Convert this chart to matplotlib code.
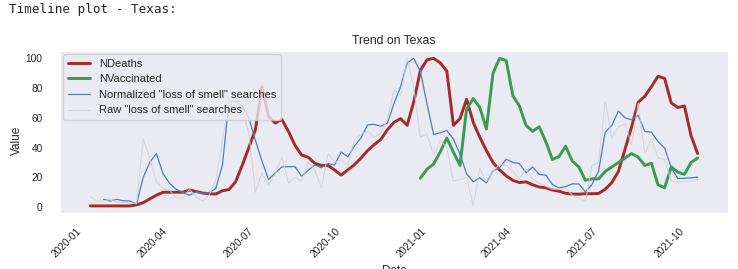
import numpy as np
import pandas as pd
import matplotlib
matplotlib.use("Agg")
import matplotlib.pyplot as plt
import seaborn as sns

sns.set_style("dark")
plt.rcParams['font.family'] = ['Liberation Sans', 'DejaVu Sans']

# weekly points (Sundays)
dates = pd.date_range("2020-01-26", periods=93, freq="7D")
nan = np.nan

n_deaths = [0.8, 0.8, 0.8, 0.8, 0.8, 0.8, 0.8, 1.5, 3, 5.5,
            8, 10, 10, 10, 10, 11.5, 10.5, 9.5, 9, 8.8,
            11, 11.8, 17, 28, 40, 52, 81, 61, 56.5, 59,
            51, 41.5, 35, 33.5, 29.5, 28, 28, 25, 21.5, 25,
            28.5, 33, 38, 42, 45.5, 52, 57, 59.5, 55, 71,
            92, 99, 100, 97, 91.5, 55, 59.5, 72.5, 57, 47,
            38, 30, 25, 21, 18, 16.5, 17, 15, 13.5, 13,
            11.5, 10.7, 9.3, 8.8, 8.7, 9, 9, 9.2, 12, 16.5,
            24, 39, 54, 70.5, 74.5, 81, 88, 86.5, 70, 67,
            68, 48, 36]

n_vacc = [nan] * 50 + [
            19.5, 25.5, 29, 37, 46.5, 37, 28, 66, 73, 67,
            52.5, 90, 100, 98.5, 75, 68, 55, 51, 54, 44,
            32, 34, 41, 31, 27, 18, 19, 19, 24, 27,
            30, 33, 36, 33.5, 28, 29.5, 15, 13, 27, 23.5,
            22, 30, 33]

norm_smell = [nan, nan, 5.2, 4.1, 5.2, 4.3, 4.1, 2.0, 20, 30,
              36, 22.5, 16, 12, 9.8, 8, 10.3, 9.3, 9.8, 12.5,
              28, 71, 71.5, 68, 60, 45, 31, 18.5, 23, 27,
              27.2, 27.2, 20.8, 24.7, 28.3, 26.5, 29.3, 28.3, 37, 33.8,
              41, 46.5, 55.4, 55.6, 54.4, 56.5, 69.6, 81, 97, 100,
              91, 69.6, 48.8, 50, 51.5, 45.8, 35.6, 22.4, 17, 19.7,
              16.3, 24.3, 26.5, 32.2, 30, 29.3, 23.1, 27, 22, 21.5,
              15.2, 12.9, 13.8, 15.6, 15.6, 10.2, 15.2, 24.3, 50.4, 55,
              64.6, 60, 58.7, 61.7, 50.9, 50.4, 44.1, 39.8, 26.5, 19.3,
              19.3, 19.7, 20.2]

raw_smell = [7, 4, 4, 5, 3.5, 3, 3, 2.5, 46, 33,
             17, 12.5, 11.5, 6, 6, 12, 7, 4, 8, 18,
             45, 72, 74, 66, 50, 10, 23, 15, 22, 34,
             16, 20, 17.5, 30, 25, 13, 36, 30, 32, 28,
             45, 49, 51, 47, 50, 59, 79, 75, 100, 80,
             47, 49, 35, 45, 40, 17.5, 18.5, 20, 1.3, 26,
             17, 24, 29, 28, 24, 19, 26, 19, 16, 14,
             12, 12, 13, 8, 6, 4, 28, 30, 71, 46,
             54, 56, 42, 70, 36, 46, 33, 32, 17.5, 17,
             17, 17.5, 18.6]

fig = plt.figure(figsize=(7.38, 2.69), dpi=100)
fig.text(9 / 738, 1 - 10 / 269, "Timeline plot - Texas:", family="DejaVu Sans Mono",
         fontsize=9.1, va="center", ha="left", color="#222222")

ax = fig.add_axes([60 / 738, 1 - 213.3 / 269, 668 / 738, (213.3 - 51) / 269])
ax.plot(dates, n_deaths, color="#a52a2a", lw=2.1, label="NDeaths")
ax.plot(dates, n_vacc, color="#3c9a50", lw=2.1, label="NVaccinated")
ax.plot(dates, norm_smell, color="#4a80b5", lw=0.9, label='Normalized "loss of smell" searches')
ax.plot(dates, raw_smell, color="#cfcfd6", lw=0.8, alpha=0.8, label='Raw "loss of smell" searches')

ax.set_title("Trend on Texas", fontsize=8.8, color=".15", pad=5)
ax.set_xlabel("Date", fontsize=8.5, color=".15")
ax.set_ylabel("Value", fontsize=8.5, color=".15")
ax.yaxis.set_label_coords(-0.056, 0.45)
ax.tick_params(axis="y", labelsize=7.3, pad=9, colors=".15")
ax.tick_params(axis="x", labelsize=7.3, pad=6, colors=".15")
plt.setp(ax.get_xticklabels(), rotation=45)
ax.legend(loc="upper left", fontsize=8, borderaxespad=0.3)

fig.savefig("out.png", dpi=100)
